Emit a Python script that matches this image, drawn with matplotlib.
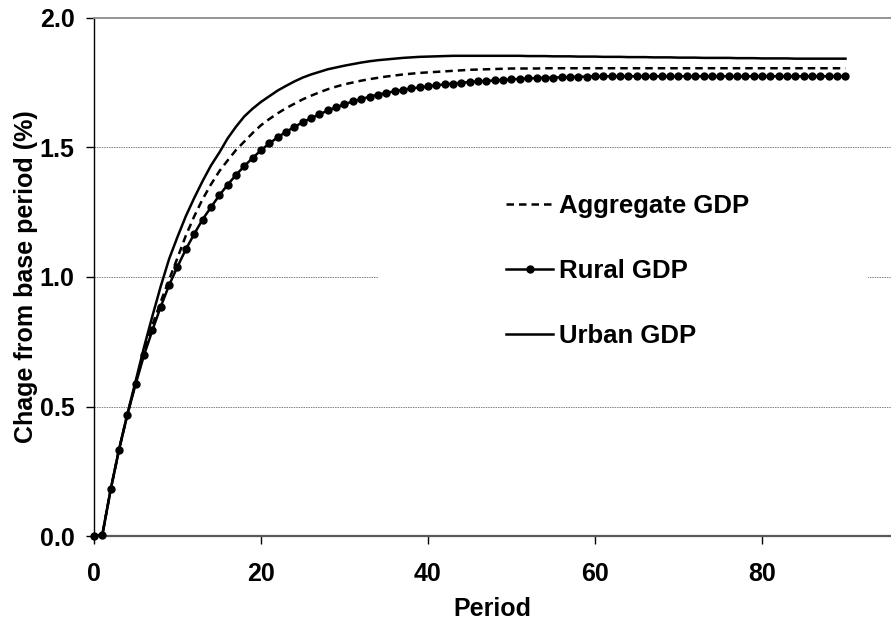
import matplotlib
matplotlib.use("Agg")
import matplotlib.pyplot as plt
from matplotlib.patches import Rectangle

# Periods 0..90
periods = list(range(91))

# Change from base period (%)
rural_gdp = [0.0, 0.005, 0.18, 0.333, 0.468, 0.588, 0.699, 0.795, 0.886, 0.969,
             1.04, 1.107, 1.166, 1.222, 1.269, 1.315, 1.356, 1.394, 1.428, 1.46,
             1.489, 1.516, 1.539, 1.561, 1.579, 1.598, 1.613, 1.628, 1.643, 1.655,
             1.667, 1.678, 1.687, 1.696, 1.704, 1.711, 1.717, 1.723, 1.728, 1.732,
             1.736, 1.74, 1.744, 1.747, 1.75, 1.753, 1.755, 1.757, 1.759, 1.761,
             1.763, 1.765, 1.767, 1.768, 1.769, 1.77, 1.771, 1.772, 1.773, 1.774,
             1.775, 1.775, 1.775, 1.775, 1.775, 1.775, 1.775, 1.775, 1.775, 1.775,
             1.775, 1.775, 1.775, 1.775, 1.775, 1.775, 1.775, 1.775, 1.775, 1.775,
             1.775, 1.775, 1.775, 1.775, 1.775, 1.775, 1.775, 1.775, 1.775, 1.775,
             1.775]

urban_gdp = [0.0, 0.005, 0.18, 0.335, 0.472, 0.60, 0.73, 0.85, 0.965, 1.07,
             1.155, 1.235, 1.305, 1.37, 1.43, 1.48, 1.535, 1.58, 1.62, 1.65,
             1.676, 1.698, 1.72, 1.738, 1.755, 1.77, 1.782, 1.792, 1.802, 1.809,
             1.816, 1.822, 1.828, 1.833, 1.837, 1.84, 1.843, 1.846, 1.848, 1.85,
             1.851, 1.852, 1.853, 1.854, 1.854, 1.854, 1.854, 1.854, 1.854, 1.854,
             1.854, 1.854, 1.853, 1.853, 1.853, 1.852, 1.852, 1.852, 1.851, 1.851,
             1.851, 1.85, 1.85, 1.85, 1.849, 1.849, 1.849, 1.848, 1.848, 1.848,
             1.847, 1.847, 1.847, 1.846, 1.846, 1.846, 1.846, 1.845, 1.845, 1.845,
             1.844, 1.844, 1.844, 1.844, 1.843, 1.843, 1.843, 1.843, 1.843, 1.843,
             1.843]

aggregate_gdp = [0.0, 0.005, 0.18, 0.334, 0.47, 0.593, 0.712, 0.815, 0.905, 0.99,
                 1.074, 1.16, 1.234, 1.30, 1.357, 1.408, 1.45, 1.49, 1.523, 1.556,
                 1.586, 1.61, 1.632, 1.652, 1.669, 1.686, 1.70, 1.713, 1.725, 1.735,
                 1.744, 1.751, 1.758, 1.764, 1.769, 1.774, 1.778, 1.782, 1.785, 1.788,
                 1.79, 1.792, 1.794, 1.796, 1.798, 1.80, 1.801, 1.802, 1.803, 1.804,
                 1.805, 1.805, 1.805, 1.805, 1.806, 1.806, 1.806, 1.806, 1.806, 1.806,
                 1.806, 1.806, 1.806, 1.806, 1.806, 1.806, 1.806, 1.806, 1.806, 1.806,
                 1.806, 1.806, 1.806, 1.806, 1.806, 1.806, 1.806, 1.806, 1.806, 1.806,
                 1.806, 1.806, 1.806, 1.806, 1.806, 1.806, 1.806, 1.806, 1.806, 1.806,
                 1.806]

x_ticks = [0, 20, 40, 60, 80]
y_ticks = [0.0, 0.5, 1.0, 1.5, 2.0]

plt.rcParams['font.family'] = ['Liberation Sans', 'DejaVu Sans']
plt.rcParams['font.weight'] = 'bold'
font_size = 18

fig = plt.figure(figsize=(8.91, 6.24), dpi=100)
ax = fig.add_axes([94 / 891, 88 / 624, 797 / 891, 518 / 624])

# gridlines (dotted, grey)
for y in y_ticks[1:-1]:
    ax.axhline(y, color='#808080', lw=0.7, ls=(0, (1.5, 1)), zorder=1)

ax.plot(periods, aggregate_gdp, color='black', lw=1.8, ls=(0, (3, 2)),
        label='Aggregate GDP', zorder=3)
ax.plot(periods, rural_gdp, color='black', lw=1.8, marker='o', ms=5,
        label='Rural GDP', zorder=4, clip_on=False)
ax.plot(periods, urban_gdp, color='black', lw=1.8, label='Urban GDP', zorder=3)

ax.set_xlim(0, 95.45)
ax.set_ylim(0, 2.0)
ax.set_xticks(x_ticks)
ax.set_yticks(y_ticks)
ax.set_yticklabels([f'{v:.1f}' for v in y_ticks])
ax.tick_params(axis='both', labelsize=font_size, direction='out', length=6,
               width=1)
ax.tick_params(axis='y', pad=8)
ax.tick_params(axis='x', pad=13)

ax.spines['right'].set_visible(False)
ax.spines['top'].set_color('#8c8c8c')
ax.spines['top'].set_linewidth(1.3)
ax.spines['bottom'].set_color('#595959')
ax.spines['bottom'].set_linewidth(1.6)
ax.spines['left'].set_color('black')
ax.spines['left'].set_linewidth(1.0)

ax.set_xlabel('Period', fontsize=font_size, fontweight='bold', labelpad=8)
ax.set_ylabel('Chage from base period (%)', fontsize=font_size,
              fontweight='bold', labelpad=1)

# white legend area that hides the 1.0 gridline
ax.add_patch(Rectangle((0.356, 0.30), 0.615, 0.40, transform=ax.transAxes,
                       facecolor='white', edgecolor='none', zorder=2))
ax.legend(loc='center left', bbox_to_anchor=(0.517, 0.512), frameon=False,
          fontsize=18.5, handlelength=1.83, handletextpad=0.25,
          labelspacing=1.6, borderpad=0, borderaxespad=0)

fig.savefig('out.png', dpi=100)
